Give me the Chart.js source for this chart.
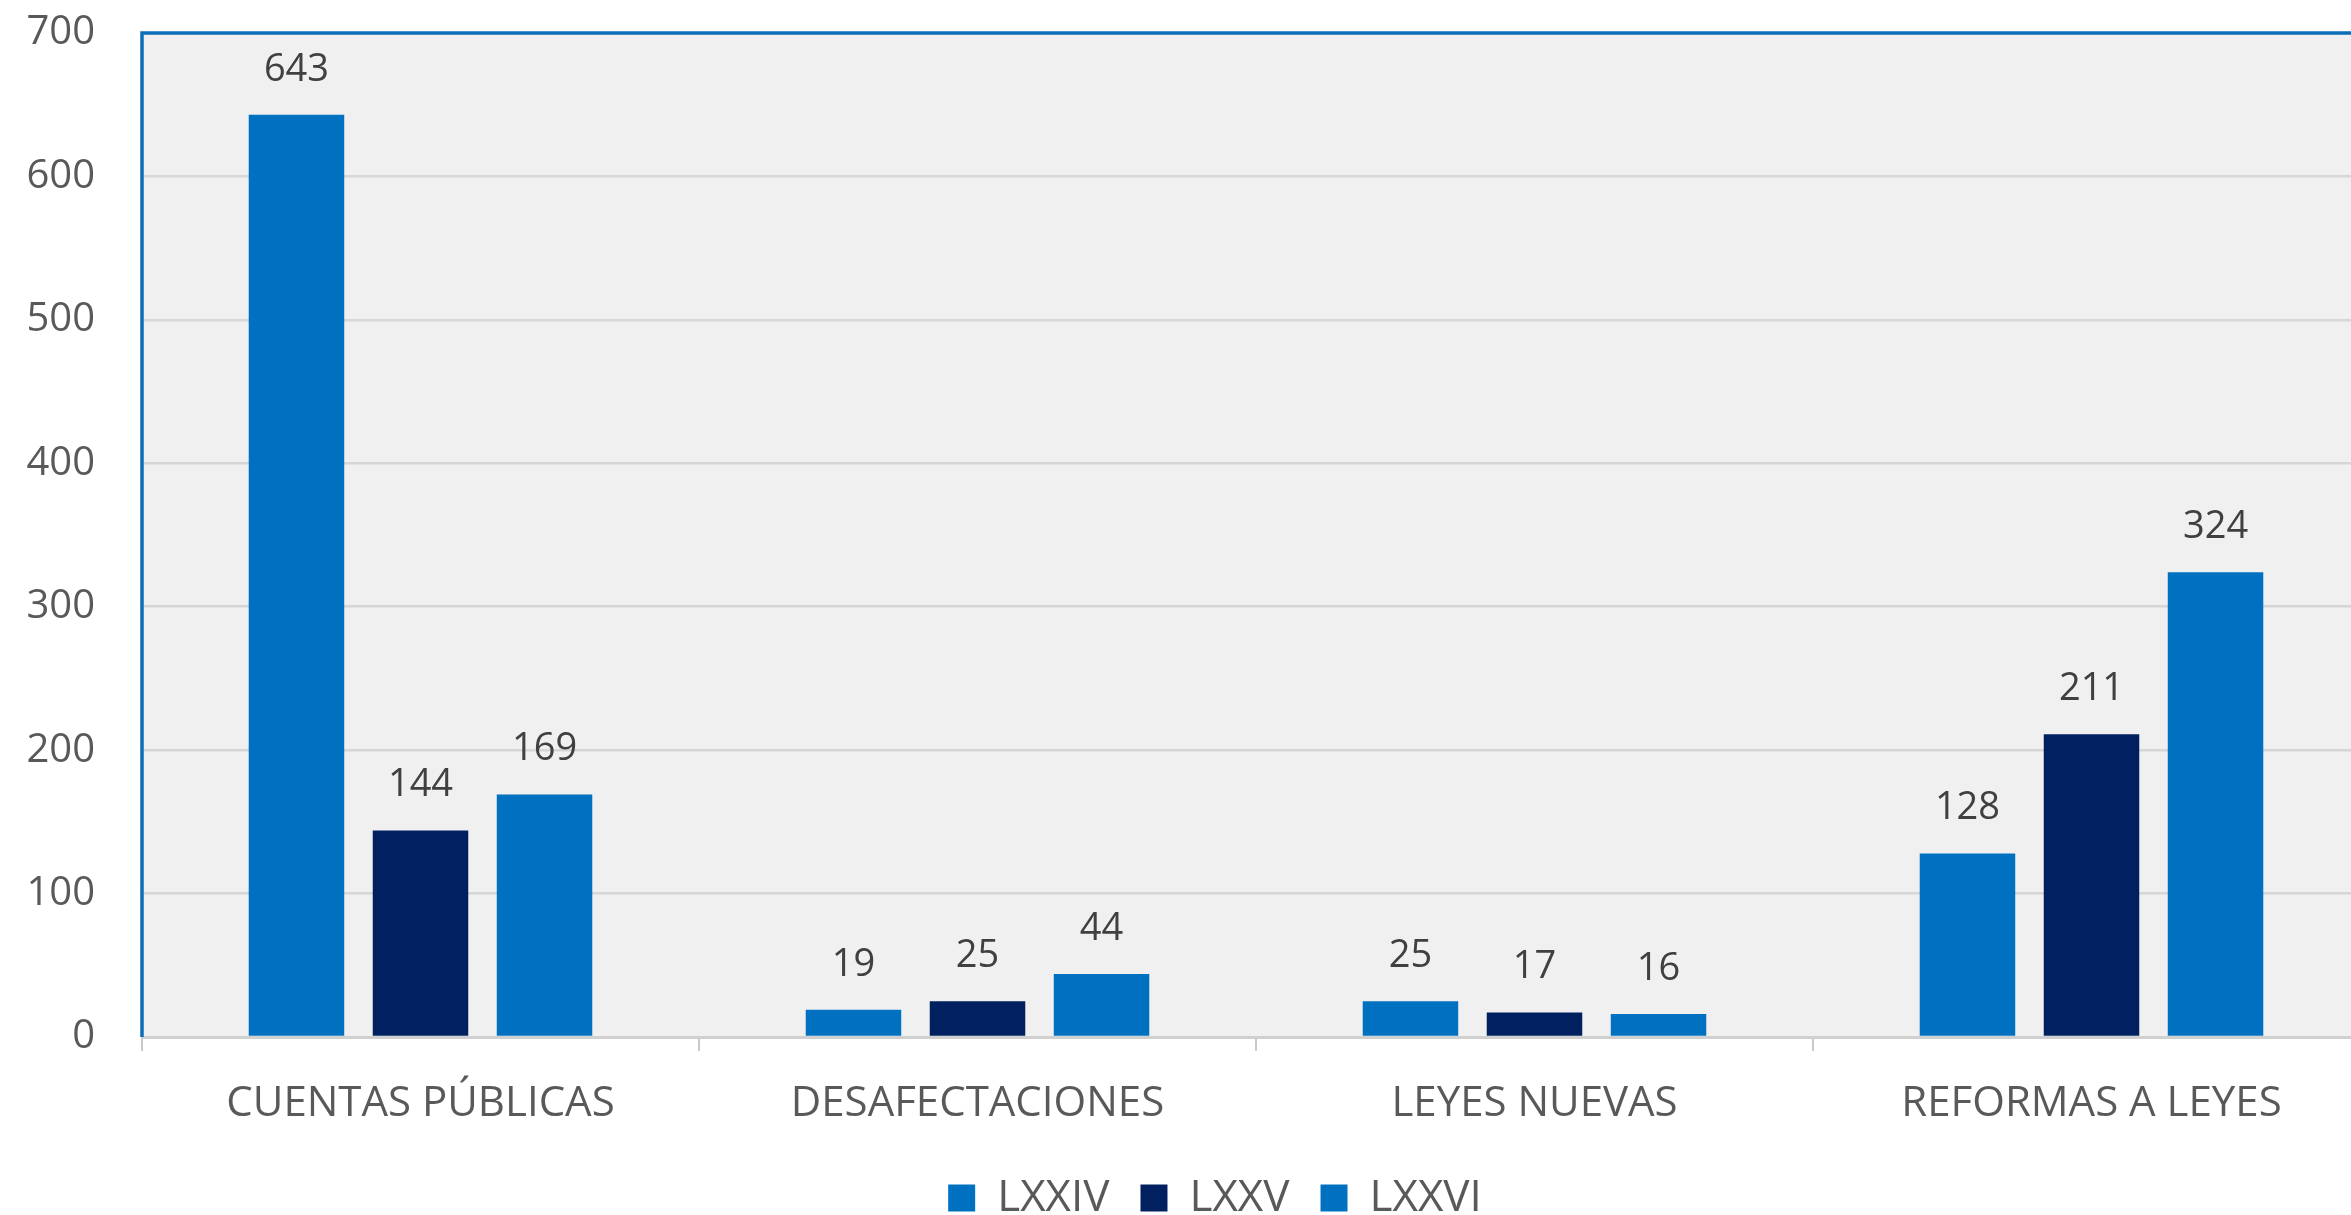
<!DOCTYPE html>
<html>
<head>
<meta charset="utf-8">
<script src="https://cdn.jsdelivr.net/npm/chart.js@4.4.1/dist/chart.umd.min.js"></script>
<style>
  html, body { margin: 0; padding: 0; background: #fff; overflow: hidden; width: 2351px; height: 1215px; }
  #wrap { position: absolute; left: 0; top: -38px; width: 2422px; height: 1268px; }
</style>
</head>
<body>
<div id="wrap"><canvas id="grafica"></canvas></div>
<script>
// datos
const categorias = ['CUENTAS PÚBLICAS', 'DESAFECTACIONES', 'LEYES NUEVAS', 'REFORMAS A LEYES'];
const legislaturas = ['LXXIV', 'LXXV', 'LXXVI'];
const valoresLXXIV = [643, 19, 25, 128];
const valoresLXXV = [144, 25, 17, 211];
const valoresLXXVI = [169, 44, 16, 324];
const ticksY = [0, 100, 200, 300, 400, 500, 600, 700];

const colores = ['#0070c0', '#002060', '#0070c0'];
const fuente = "'Open Sans', Lato, sans-serif";

// fondo gris y borde azul del area de trazado
const fondoPlot = {
    id: 'fondoPlot',
    beforeDraw(chart) {
        const { ctx, chartArea: a } = chart;
        ctx.save();
        ctx.fillStyle = '#f0f0f0';
        ctx.fillRect(a.left, a.top, a.right - a.left, a.bottom - a.top);
        ctx.restore();
    },
    afterDraw(chart) {
        const { ctx, chartArea: a } = chart;
        ctx.save();
        ctx.strokeStyle = '#0a6fb8';
        ctx.lineWidth = 3.5;
        ctx.beginPath();
        ctx.moveTo(a.left, a.bottom);
        ctx.lineTo(a.left, a.top);
        ctx.lineTo(a.right, a.top);
        ctx.stroke();
        ctx.restore();
    }
};

// la leyenda va un poco a la derecha del centro
const moverLeyenda = {
    id: 'moverLeyenda',
    afterLayout(chart) {
        if (chart.legend) {
            chart.legend.left += 30;
            chart.legend.right += 30;
        }
    }
};

// etiquetas de valor sobre cada barra
const etiquetas = {
    id: 'etiquetas',
    afterDatasetsDraw(chart) {
        const ctx = chart.ctx;
        ctx.save();
        ctx.font = '38px ' + fuente;
        ctx.fillStyle = '#404040';
        ctx.textAlign = 'center';
        ctx.textBaseline = 'middle';
        chart.data.datasets.forEach((ds, i) => {
            chart.getDatasetMeta(i).data.forEach((bar, j) => {
                ctx.fillText(ds.data[j], bar.x, bar.y - 45);
            });
        });
        ctx.restore();
    }
};

new Chart(document.getElementById('grafica'), {
    type: 'bar',
    data: {
        labels: categorias,
        datasets: [
            { label: legislaturas[0], data: valoresLXXIV, backgroundColor: colores[0] },
            { label: legislaturas[1], data: valoresLXXV, backgroundColor: colores[1] },
            { label: legislaturas[2], data: valoresLXXVI, backgroundColor: colores[2] }
        ]
    },
    options: {
        responsive: true,
        maintainAspectRatio: false,
        animation: false,
        datasets: { bar: { categoryPercentage: 0.668, barPercentage: 0.77 } },
        layout: { padding: { top: 0, right: 52, bottom: 0, left: 0 } },
        scales: {
            x: {
                grid: { drawOnChartArea: false, drawTicks: true, tickLength: 14, color: '#c8c8c8', lineWidth: 2 },
                border: { display: true, color: '#d0d0d0', width: 3 },
                ticks: { color: '#595959', font: { family: fuente, size: 42 }, padding: 28, maxRotation: 0 },
                afterFit(scale) { scale.height = 108; }
            },
            y: {
                min: 0,
                max: 700,
                afterBuildTicks(scale) { scale.ticks = ticksY.map(v => ({ value: v })); },
                afterFit(scale) { scale.width = 142; },
                grid: { color: '#d6d6d6', lineWidth: 2.5, drawTicks: false },
                border: { display: false },
                ticks: { color: '#595959', font: { family: fuente, size: 40 }, padding: 47 }
            }
        },
        plugins: {
            legend: {
                position: 'bottom',
                labels: {
                    boxWidth: 27,
                    boxHeight: 27,
                    padding: 31,
                    color: '#595959',
                    font: { family: fuente, size: 44 }
                }
            },
            tooltip: { enabled: false }
        }
    },
    plugins: [fondoPlot, moverLeyenda, etiquetas]
});
</script>
</body>
</html>
